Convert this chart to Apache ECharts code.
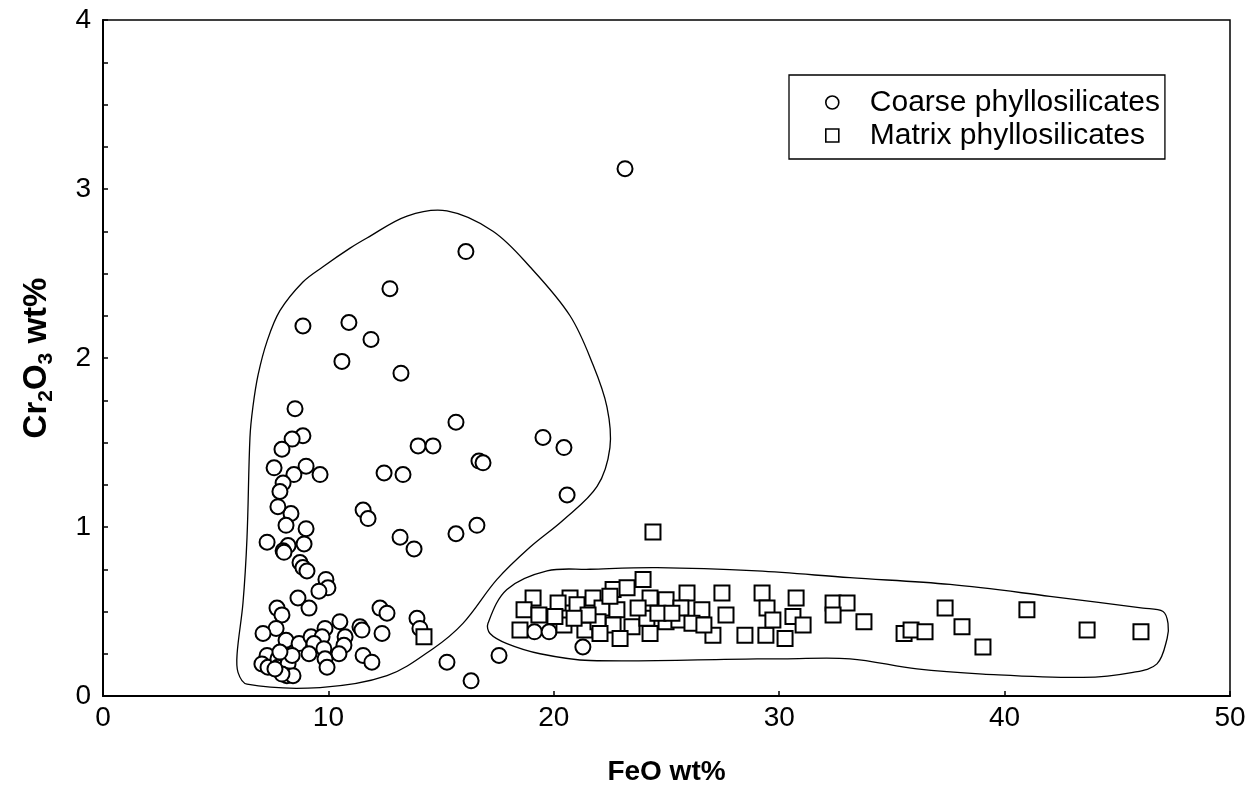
<!DOCTYPE html>
<html>
<head>
<meta charset="utf-8">
<title>Cr2O3 vs FeO in phyllosilicates</title>
<script src="https://cdn.jsdelivr.net/npm/echarts@6/dist/echarts.min.js"></script>
<style>
  html, body { margin: 0; padding: 0; background: #fff; }
  #chart { width: 1258px; height: 791px; }
</style>
</head>
<body>
<div id="chart"></div>
<script>
// Coarse phyllosilicates: FeO wt% and Cr2O3 wt%
const coarseFeO = [23.16, 16.10, 12.73, 8.87, 10.91, 11.89, 10.60, 13.22, 8.52, 15.66,
  19.52, 8.87, 8.39, 13.98, 14.64, 20.45, 7.94, 16.68, 16.86, 7.59,
  9.01, 12.47, 13.31, 9.63, 8.47, 7.99, 7.85, 20.59, 11.54, 11.76,
  8.34, 7.76, 9.01, 8.12, 16.59, 13.18, 15.66, 13.80, 7.28, 8.21,
  8.92, 7.99, 8.03, 8.74, 8.87, 9.05, 9.89, 9.98, 9.58, 8.65,
  9.14, 7.72, 7.94, 12.29, 12.60, 13.93, 14.06, 10.51, 11.40, 11.49,
  7.68, 7.10, 8.12, 8.70, 9.23, 9.85, 9.72, 9.36, 9.14, 9.80,
  10.74, 10.69, 10.47, 12.38, 11.54, 11.93, 9.85, 9.94, 7.28, 7.05,
  7.32, 7.76, 7.76, 8.16, 8.21, 8.39, 8.16, 8.43, 7.94, 7.63,
  7.85, 15.26, 16.33, 17.57, 19.14, 19.79, 21.29];
const coarseCr = [3.12, 2.63, 2.41, 2.19, 2.21, 2.11, 1.98, 1.91, 1.70, 1.62,
  1.53, 1.54, 1.52, 1.48, 1.48, 1.47, 1.46, 1.39, 1.38, 1.35,
  1.36, 1.32, 1.31, 1.31, 1.31, 1.26, 1.21, 1.19, 1.10, 1.05,
  1.08, 1.12, 0.99, 1.01, 1.01, 0.94, 0.96, 0.87, 0.91, 0.89,
  0.90, 0.86, 0.85, 0.79, 0.76, 0.74, 0.69, 0.64, 0.62, 0.58,
  0.52, 0.52, 0.48, 0.52, 0.49, 0.46, 0.40, 0.44, 0.41, 0.39,
  0.40, 0.37, 0.33, 0.31, 0.35, 0.40, 0.35, 0.31, 0.25, 0.28,
  0.35, 0.30, 0.25, 0.37, 0.24, 0.20, 0.22, 0.17, 0.24, 0.19,
  0.17, 0.22, 0.17, 0.24, 0.19, 0.24, 0.12, 0.12, 0.13, 0.16,
  0.26, 0.20, 0.09, 0.24, 0.38, 0.38, 0.29];

// Matrix phyllosilicates: FeO wt% and Cr2O3 wt%
const matrixFeO = [24.40, 14.24, 19.08, 18.68, 19.34, 18.50, 20.72, 21.03, 20.45, 21.38,
  21.74, 22.14, 22.63, 23.25, 23.96, 22.80, 22.63, 23.47, 22.94, 24.27,
  24.13, 24.27, 24.98, 24.98, 25.55, 25.91, 25.64, 26.57, 27.46, 27.64,
  27.06, 28.48, 29.24, 29.46, 29.41, 29.72, 30.26, 30.75, 30.61, 31.06,
  32.39, 33.01, 32.39, 33.76, 35.54, 35.85, 36.47, 37.36, 38.11, 39.04,
  40.99, 43.66, 46.05, 21.96, 22.05, 20.19, 21.52, 23.74, 24.62, 26.13,
  22.49, 25.24, 26.66, 20.05, 20.90];
const matrixCr = [0.97, 0.35, 0.58, 0.51, 0.48, 0.39, 0.58, 0.54, 0.42, 0.39,
  0.58, 0.52, 0.63, 0.64, 0.69, 0.51, 0.42, 0.41, 0.34, 0.58,
  0.46, 0.37, 0.57, 0.44, 0.45, 0.61, 0.52, 0.51, 0.61, 0.48,
  0.36, 0.36, 0.61, 0.52, 0.36, 0.45, 0.34, 0.58, 0.47, 0.42,
  0.55, 0.55, 0.48, 0.44, 0.37, 0.39, 0.38, 0.52, 0.41, 0.29,
  0.51, 0.39, 0.38, 0.44, 0.37, 0.55, 0.48, 0.52, 0.49, 0.43,
  0.59, 0.49, 0.42, 0.47, 0.46];

// Outline enclosing the coarse grains (FeO, Cr2O3), traced clockwise
const coarseFieldFeO = [6.39, 5.99, 5.95, 6.21, 6.39, 6.52, 6.65, 6.88, 7.28, 7.85,
  8.87, 9.76, 10.96, 11.71, 13.49, 15.26, 17.30, 18.94, 20.72, 21.74,
  22.36, 22.49, 21.92, 20.41, 18.94, 17.48, 15.97, 14.64, 12.60, 9.63];
const coarseFieldCr = [0.07, 0.14, 0.25, 0.55, 0.94, 1.53, 1.71, 1.90, 2.10, 2.28,
  2.45, 2.54, 2.65, 2.71, 2.84, 2.87, 2.75, 2.54, 2.25, 1.96,
  1.71, 1.47, 1.24, 1.04, 0.88, 0.69, 0.43, 0.28, 0.12, 0.05];

// Outline enclosing the matrix analyses
const matrixFieldFeO = [17.08, 17.92, 19.70, 21.61, 24.58, 29.02, 33.14, 37.58, 42.01, 46.14,
  47.03, 47.25, 47.21, 46.76, 45.70, 43.48, 39.04, 36.11, 33.14, 30.17,
  29.02, 21.61, 19.39, 17.92, 17.17];
const matrixFieldCr = [0.43, 0.63, 0.74, 0.75, 0.76, 0.74, 0.70, 0.66, 0.59, 0.52,
  0.50, 0.43, 0.34, 0.19, 0.14, 0.11, 0.13, 0.16, 0.22, 0.22,
  0.22, 0.21, 0.25, 0.31, 0.37];

const xTicks = [0, 10, 20, 30, 40, 50];
const yTicks = [0, 1, 2, 3, 4];

const FONT = '"Liberation Sans", Arial, sans-serif';
const SQUARE = 'path://M0 0H10V10H0Z';
const zip = (xs, ys) => xs.map((x, i) => [x, ys[i]]);

const fieldSeries = (xs, ys) => ({
  type: 'custom',
  coordinateSystem: 'cartesian2d',
  silent: true,
  z: 1,
  data: [[xs[0], ys[0]]],
  renderItem: (params, api) => ({
    type: 'polygon',
    shape: { points: zip(xs, ys).map(p => api.coord(p)), smooth: 0.35 },
    style: { fill: 'none', stroke: '#000', lineWidth: 1.3 }
  })
});

const chart = echarts.init(document.getElementById('chart'), null, { renderer: 'canvas' });

chart.setOption({
  animation: false,
  backgroundColor: '#fff',
  textStyle: { fontFamily: FONT, color: '#000' },
  grid: {
    left: 103, right: 28, top: 20, bottom: 91,
    show: true, borderColor: '#000', borderWidth: 1.5, backgroundColor: 'transparent'
  },
  legend: {
    data: [
      { name: 'Coarse phyllosilicates', icon: 'circle' },
      { name: 'Matrix phyllosilicates', icon: SQUARE }
    ],
    orient: 'vertical',
    left: 789, top: 75,
    padding: [12, 5, 8, 36],
    borderColor: '#000', borderWidth: 1.3,
    itemWidth: 13, itemHeight: 13, itemGap: 2,
    symbolKeepAspect: true,
    itemStyle: { color: '#fff', borderColor: '#000', borderWidth: 1.6 },
    textStyle: { fontFamily: FONT, fontSize: 30, color: '#000', lineHeight: 31, padding: [0, 0, 0, 26] }
  },
  xAxis: {
    type: 'value', min: xTicks[0], max: xTicks[xTicks.length - 1], interval: 10,
    name: 'FeO wt%', nameLocation: 'middle', nameGap: 62,
    nameTextStyle: { fontFamily: FONT, fontSize: 28, fontWeight: 'bold', color: '#000' },
    axisLine: { show: true, onZero: false, lineStyle: { color: '#000', width: 2 } },
    axisTick: { show: true, inside: true, length: 5, lineStyle: { color: '#000', width: 1.5 } },
    axisLabel: { fontFamily: FONT, fontSize: 28, color: '#000', margin: 8 },
    splitLine: { show: false }
  },
  yAxis: {
    type: 'value', min: yTicks[0], max: yTicks[yTicks.length - 1], interval: 1,
    name: '{b|Cr}{s|2}{b|O}{s|3}{b| wt%}', nameLocation: 'middle', nameGap: 46,
    nameTextStyle: {
      rich: {
        b: { fontFamily: FONT, fontSize: 33, fontWeight: 'bold', color: '#000', lineHeight: 40 },
        s: { fontFamily: FONT, fontSize: 21, fontWeight: 'bold', color: '#000', lineHeight: 21, verticalAlign: 'bottom' }
      }
    },
    axisLine: { show: true, onZero: false, lineStyle: { color: '#000', width: 2 } },
    axisTick: { show: true, inside: true, length: 5, lineStyle: { color: '#000', width: 1.5 } },
    minorTick: { show: true, splitNumber: 4, length: 5, lineStyle: { color: '#000', width: 1.5 } },
    axisLabel: { fontFamily: FONT, fontSize: 28, color: '#000', margin: 12 },
    splitLine: { show: false }
  },
  series: [
    fieldSeries(coarseFieldFeO, coarseFieldCr),
    fieldSeries(matrixFieldFeO, matrixFieldCr),
    {
      name: 'Coarse phyllosilicates',
      type: 'scatter', z: 3,
      symbol: 'circle', symbolSize: 15,
      itemStyle: { color: '#fff', borderColor: '#000', borderWidth: 2, opacity: 1 },
      data: zip(coarseFeO, coarseCr)
    },
    {
      name: 'Matrix phyllosilicates',
      type: 'scatter', z: 4,
      symbol: 'rect', symbolSize: 15,
      itemStyle: { color: '#fff', borderColor: '#000', borderWidth: 2, opacity: 1 },
      data: zip(matrixFeO, matrixCr)
    }
  ]
});
</script>
</body>
</html>
